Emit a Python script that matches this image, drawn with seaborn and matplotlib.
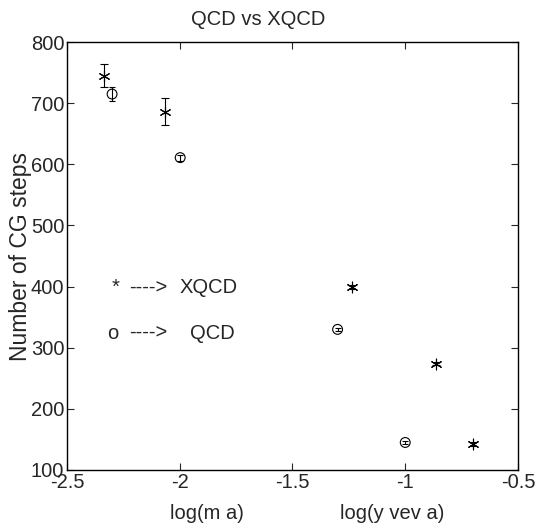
import numpy as np
import pandas as pd
import seaborn as sns
import matplotlib
matplotlib.use("Agg")
import matplotlib.pyplot as plt

sns.set_style("ticks")
plt.rcParams["font.family"] = ["Liberation Sans", "DejaVu Sans"]

# ===================== DATA =====================
xqcd_x = [-2.335, -2.064, -1.238, -0.864, -0.70]
xqcd_y = [745, 686, 399, 274, 143]
xqcd_err = [19, 22, 3, 3, 3]

qcd_x = [-2.30, -1.998, -1.30, -1.00]
qcd_y = [715, 611, 330, 145]
qcd_err = [11, 5, 3, 3]

xticks = [-2.5, -2, -1.5, -1, -0.5]
yticks = [100, 200, 300, 400, 500, 600, 700, 800]

xqcd = pd.DataFrame({"x": xqcd_x, "y": xqcd_y})
qcd = pd.DataFrame({"x": qcd_x, "y": qcd_y})

# ===================== PLOT =====================
fig = plt.figure(figsize=(5.35, 5.25), dpi=100)
ax = fig.add_axes([0.1252, 0.1048, 0.843, 0.815])

sns.scatterplot(data=xqcd, x="x", y="y", marker=(6, 2, 0), color="black",
                s=60, linewidth=0.8, legend=False, ax=ax)
sns.scatterplot(data=qcd, x="x", y="y", marker="o", facecolor="none",
                edgecolor="black", s=50, linewidth=0.8, legend=False, ax=ax)

ax.errorbar(xqcd_x, xqcd_y, yerr=xqcd_err, fmt="none", ecolor="black",
            elinewidth=0.8, capsize=3, capthick=0.8)
ax.errorbar(qcd_x, qcd_y, yerr=qcd_err, fmt="none", ecolor="black",
            elinewidth=0.8, capsize=2, capthick=0.8)

ax.set_xlim(-2.5, -0.5)
ax.set_ylim(100, 800)
ax.set_xticks(xticks)
ax.set_xticklabels([f"{t:g}" for t in xticks], fontsize=14.5)
ax.set_yticks(yticks)
ax.set_yticklabels([str(t) for t in yticks], fontsize=14.5)
ax.tick_params(direction="in", top=True, right=True, length=5, width=0.8, pad=2)
for s in ax.spines.values():
    s.set_linewidth(1.0)
    s.set_color("black")

ax.set_xlabel("")
ax.set_ylabel("Number of CG steps", fontsize=16.5, labelpad=-1)
ax.set_title("QCD vs XQCD", fontsize=14.5, pad=12)
ax.title.set_x(0.424)

ax.text(-1.88, -0.08, "log(m a)", transform=ax.get_xaxis_transform(),
        ha="center", va="top", fontsize=14.5)
ax.text(-1.06, -0.08, "log(y vev a)", transform=ax.get_xaxis_transform(),
        ha="center", va="top", fontsize=14.5)

# hand-written key
ax.text(-2.300, 398, "*", fontsize=14.5, va="center", ha="left")
ax.text(-2.225, 398, "---->", fontsize=14.5, va="center", ha="left")
ax.text(-2.003, 398, "XQCD", fontsize=14.5, va="center", ha="left")
ax.text(-2.323, 324, "o", fontsize=14.5, va="center", ha="left")
ax.text(-2.225, 324, "---->", fontsize=14.5, va="center", ha="left")
ax.text(-1.955, 324, "QCD", fontsize=14.5, va="center", ha="left")

fig.savefig("out.png", dpi=100)
